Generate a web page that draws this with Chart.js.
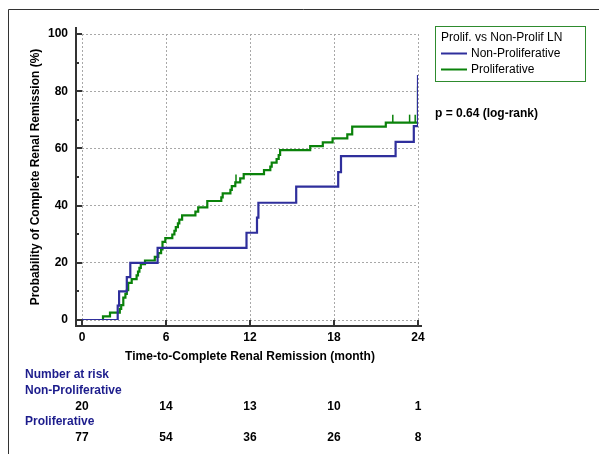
<!DOCTYPE html>
<html>
<head>
<meta charset="utf-8">
<script src="https://cdn.jsdelivr.net/npm/chart.js@4"></script>
<style>
  html, body { margin: 0; padding: 0; background: #fff; }
  #wrap { position: relative; width: 599px; height: 454px; }
</style>
</head>
<body>
<div id="wrap"><canvas id="kmChart" width="599" height="454"></canvas></div>
<script>
// Kaplan-Meier steps (month, % in remission)
const nonProlifMonths = [0, 2.55, 2.65, 3.2, 3.45, 5.4, 11.75, 12.5, 12.6, 15.3, 18.3, 18.5, 22.4, 23.7, 24];
const nonProlifPct    = [0, 5, 10, 15, 20, 25.2, 30.5, 35.8, 41.0, 46.6, 51.7, 57.3, 62.3, 67.8, 85.7];

const prolifMonths = [0, 1.5, 2.0, 2.7, 2.8, 2.95, 3.1, 3.2, 3.3, 3.55, 3.9, 4.0, 4.1, 4.2, 4.5,
  5.2, 5.45, 5.65, 5.75, 5.95, 6.45, 6.6, 6.7, 6.85, 6.95, 7.15, 8.1, 8.3, 8.95, 9.95, 10.05,
  10.6, 10.7, 10.95, 11.3, 11.55, 13.0, 13.45, 13.55, 13.9, 14.05, 14.15, 16.3, 17.2, 17.9,
  18.95, 19.3, 21.7, 24];
const prolifPct = [0, 1.3, 2.6, 3.9, 5.2, 7.8, 9.1, 10.4, 13.0, 14.3, 15.6, 16.9, 18.2, 19.5, 20.8,
  22.1, 23.4, 24.7, 27.3, 28.6, 29.9, 31.2, 32.5, 33.8, 35.1, 36.6, 37.9, 39.4, 41.6, 42.9, 44.3,
  45.5, 46.8, 48.1, 49.5, 51.0, 52.4, 53.6, 55.0, 56.3, 57.7, 59.4, 60.8, 62.1, 63.5,
  64.9, 67.6, 69.0, 81.6];

// censored observations (tick marks)
const prolifCensorMonths = [11.0, 22.2, 23.4, 23.8];
const prolifCensorPct    = [49.5, 70.4, 70.4, 70.4];

const xTicks = [0, 6, 12, 18, 24];
const yTicks = [0, 20, 40, 60, 80, 100];

// number at risk table
const riskTimes      = [0, 6, 12, 18, 24];
const riskNonProlif  = [20, 14, 13, 10, 1];
const riskProlif     = [77, 54, 36, 26, 8];

const blue = '#2f2f9c';
const green = '#0a820a';
const navy = '#1c1c8c';
const FONT = 'Liberation Sans, Arial, sans-serif';

Chart.defaults.font.family = FONT;
Chart.defaults.font.size = 12;
Chart.defaults.color = '#000';

const toXY = (xs, ys) => xs.map((x, i) => ({ x, y: ys[i] }));

const extras = {
  id: 'extras',
  afterDraw(chart) {
    const ctx = chart.ctx;
    const xs = chart.scales.x, ys = chart.scales.y;
    const area = chart.chartArea;
    ctx.save();

    // outer frame (clipped at right and bottom)
    ctx.strokeStyle = '#333';
    ctx.lineWidth = 1;
    ctx.beginPath();
    ctx.moveTo(8.5, 454);
    ctx.lineTo(8.5, 9.5);
    ctx.lineTo(599, 9.5);
    ctx.stroke();

    // offset axes
    const axX = area.left - 6, axY = area.bottom + 6;
    ctx.strokeStyle = '#333';
    ctx.lineWidth = 2;
    ctx.beginPath();
    ctx.moveTo(axX, area.top - 7);
    ctx.lineTo(axX, axY);
    ctx.lineTo(area.right + 4, axY);
    ctx.stroke();
    yTicks.forEach(v => {
      const py = Math.round(ys.getPixelForValue(v));
      ctx.beginPath(); ctx.moveTo(axX, py); ctx.lineTo(area.left, py); ctx.stroke();
    });
    [10, 30, 50, 70, 90].forEach(v => {
      const py = Math.round(ys.getPixelForValue(v));
      ctx.beginPath(); ctx.moveTo(axX, py); ctx.lineTo(axX + 3, py); ctx.stroke();
    });
    xTicks.forEach(v => {
      const px = Math.round(xs.getPixelForValue(v));
      ctx.beginPath(); ctx.moveTo(px, area.bottom); ctx.lineTo(px, axY); ctx.stroke();
    });

    // legend
    ctx.strokeStyle = '#2e8b2e';
    ctx.lineWidth = 1;
    ctx.strokeRect(435.5, 26.5, 150, 55);
    ctx.font = '12px ' + FONT;
    ctx.fillStyle = '#000';
    ctx.textBaseline = 'middle';
    ctx.textAlign = 'left';
    ctx.fillText('Prolif. vs Non-Prolif LN', 441, 38);
    chart.data.datasets.slice(0, 2).forEach((ds, i) => {
      const ly = 53.5 + i * 16;
      ctx.strokeStyle = ds.borderColor;
      ctx.lineWidth = 2;
      ctx.beginPath(); ctx.moveTo(441, ly); ctx.lineTo(467, ly); ctx.stroke();
      ctx.fillText(ds.label, 471, ly);
    });

    // p value
    ctx.font = 'bold 12px ' + FONT;
    ctx.fillText('p = 0.64 (log-rank)', 435, 114);

    // number at risk
    ctx.fillStyle = navy;
    ctx.fillText('Number at risk', 25, 375);
    ctx.fillText('Non-Proliferative', 25, 391);
    ctx.fillText('Proliferative', 25, 422);
    ctx.fillStyle = '#000';
    ctx.textAlign = 'center';
    riskTimes.forEach((t, i) => {
      const px = xs.getPixelForValue(t);
      ctx.fillText(String(riskNonProlif[i]), px, 407);
      ctx.fillText(String(riskProlif[i]), px, 438);
    });
    ctx.restore();
  }
};

new Chart(document.getElementById('kmChart'), {
  type: 'line',
  data: {
    datasets: [
      {
        label: 'Non-Proliferative',
        data: toXY(nonProlifMonths, nonProlifPct),
        borderColor: blue,
        borderWidth: 2.2,
        stepped: true,
        pointRadius: 0,
        fill: false
      },
      {
        label: 'Proliferative',
        data: toXY(prolifMonths, prolifPct),
        borderColor: green,
        borderWidth: 2.2,
        stepped: true,
        pointRadius: 0,
        fill: false
      },
      {
        label: 'censored',
        data: toXY(prolifCensorMonths, prolifCensorPct),
        showLine: false,
        borderColor: green,
        borderWidth: 1.5,
        pointStyle: 'line',
        rotation: 90,
        pointRadius: 4
      }
    ]
  },
  options: {
    responsive: false,
    devicePixelRatio: 1,
    animation: false,
    layout: { padding: { left: 0, top: 34, right: 181, bottom: 0 } },
    plugins: {
      legend: { display: false },
      tooltip: { enabled: false }
    },
    scales: {
      x: {
        type: 'linear',
        min: 0,
        max: 24,
        afterFit: s => { s.height = 134; },
        afterBuildTicks: s => { s.ticks = xTicks.map(v => ({ value: v })); },
        ticks: { padding: 10, font: { weight: 'bold' }, color: '#000' },
        grid: { color: '#a8a8a8', lineWidth: 1, drawTicks: false },
        border: { display: false, dash: [2, 2] },
        title: {
          display: true,
          text: 'Time-to-Complete Renal Remission (month)',
          font: { weight: 'bold', size: 12 },
          color: '#000',
          padding: { top: 0, bottom: 90 }
        }
      },
      y: {
        min: 0,
        max: 100,
        afterFit: s => { s.width = 82; },
        afterBuildTicks: s => { s.ticks = yTicks.map(v => ({ value: v })); },
        ticks: { padding: 14, font: { weight: 'bold' }, color: '#000' },
        grid: { color: '#a8a8a8', lineWidth: 1, drawTicks: false },
        border: { display: false, dash: [2, 2] },
        title: {
          display: true,
          text: 'Probability of Complete Renal Remission (%)',
          font: { weight: 'bold', size: 12 },
          color: '#000',
          padding: { top: 28, bottom: 0 }
        }
      }
    }
  },
  plugins: [extras]
});
</script>
</body>
</html>
